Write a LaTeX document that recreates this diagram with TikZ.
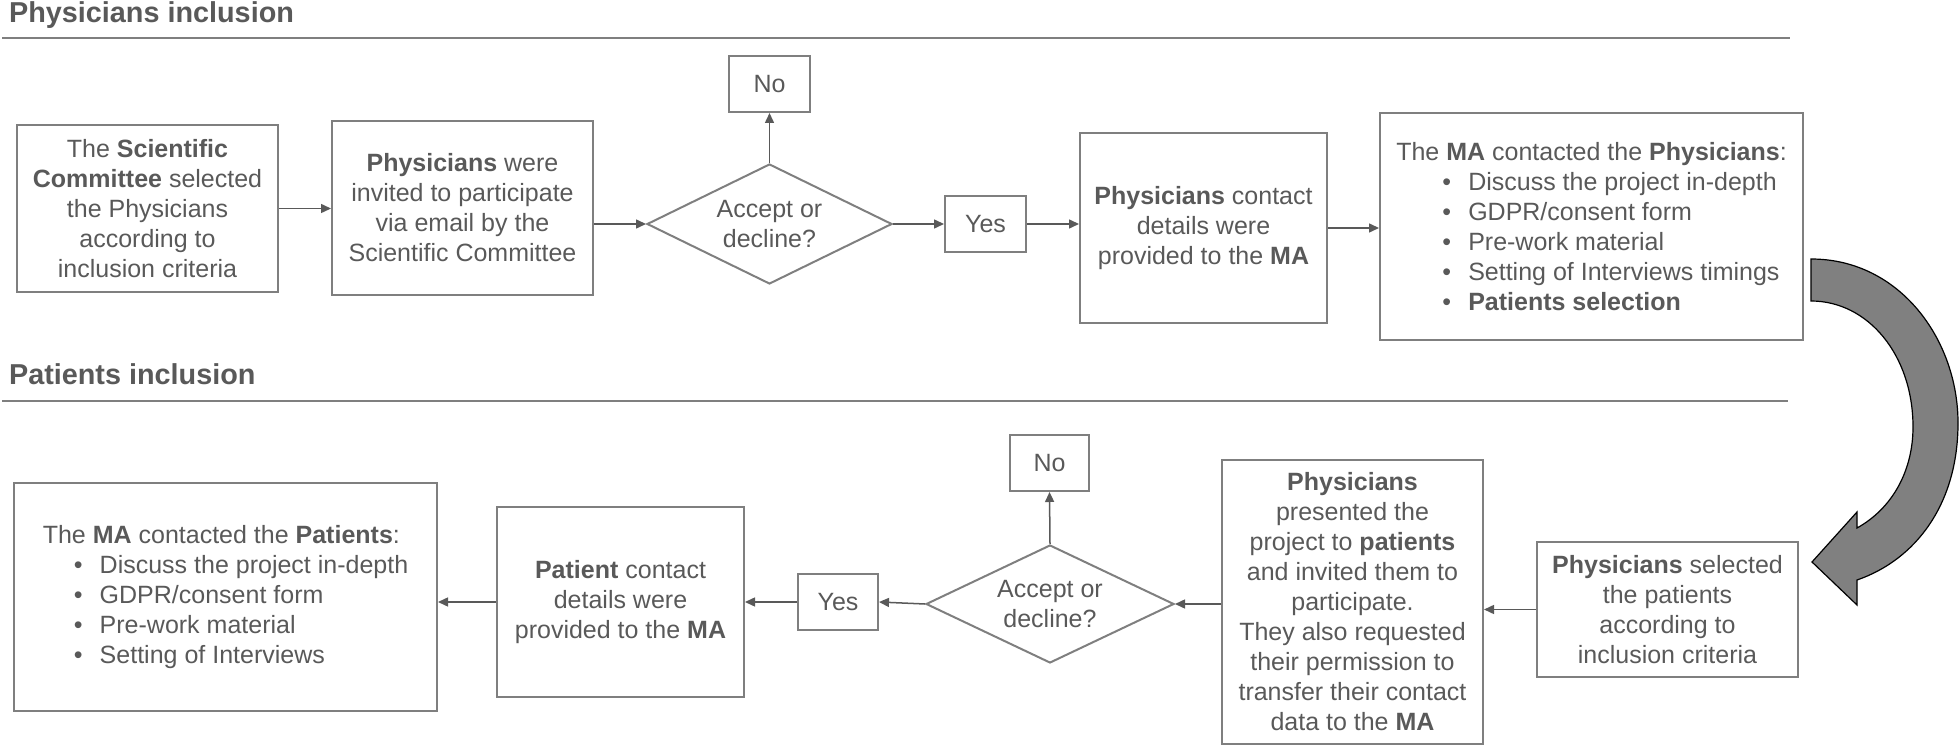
\documentclass[tikz,border=0pt]{standalone}
\usepackage{fontspec}
\setmainfont{Liberation Sans}
\usetikzlibrary{shapes.geometric,arrows.meta}
\definecolor{txtgray}{HTML}{595959}
\definecolor{boxgray}{HTML}{7F7F7F}
\definecolor{linegray}{HTML}{595959}
\definecolor{bigarrow}{HTML}{808080}
% bullet line inside the MA boxes
\newcommand{\bitem}[2]{\hspace*{#1}\makebox[13pt][l]{\textbullet}#2}

\begin{document}
\begin{tikzpicture}[x=0.5pt, y=-0.5pt,
    every node/.style={font=\fontsize{12.5}{15}\selectfont, text=txtgray},
    box/.style={draw=boxgray, line width=1pt, align=center, inner sep=2pt},
    decision/.style={diamond, aspect=2, draw=boxgray, line width=1pt, align=center, inner sep=0pt},
    flow/.style={draw=linegray, line width=0.75pt, -{Triangle[length=5pt,width=4.5pt]}},
    heading/.style={anchor=base west, font=\fontsize{14.4}{17}\selectfont\bfseries},
    rule/.style={draw=boxgray, line width=1pt}]
    \useasboundingbox (0,0) rectangle (1960,748);

    % Physicians inclusion
    \node[heading] (head1) at (2,23) {Physicians inclusion};
    \draw[rule] (2,38) -- (1790,38);

    \node[box, minimum width=130.5pt, minimum height=83.5pt] (sci) at (147.5,208.5)
        {The \textbf{Scientific}\\\textbf{Committee} selected\\the Physicians\\according to\\inclusion criteria};
    \node[box, minimum width=130.5pt, minimum height=87pt] (invite) at (462.5,208)
        {\textbf{Physicians} were\\invited to participate\\via email by the\\Scientific Committee};
    \node[decision, minimum width=122.5pt, minimum height=60pt] (dec1) at (769.5,224) {Accept or\\decline?};
    \node[box, minimum width=40.5pt, minimum height=28pt] (no1) at (769.5,84) {No};
    \node[box, minimum width=40.5pt, minimum height=28pt] (yes1) at (985.5,224) {Yes};
    \node[box, minimum width=123.5pt, minimum height=95pt] (det1) at (1203.5,228)
        {\textbf{Physicians} contact\\details were\\provided to the \textbf{MA}};
    \node[box, align=left, minimum width=211.5pt, minimum height=113.5pt] (ma1) at (1591.5,226.5)
        {The \textbf{MA} contacted the \textbf{Physicians}:\\
         \bitem{23pt}{Discuss the project in-depth}\\
         \bitem{23pt}{GDPR/consent form}\\
         \bitem{23pt}{Pre-work material}\\
         \bitem{23pt}{Setting of Interviews timings}\\
         \bitem{23pt}{\textbf{Patients selection}}};

    \draw[flow] (sci.east) -- (sci.east -| invite.west);
    \draw[flow] (dec1.west -| invite.east) -- (dec1.west);
    \draw[flow] (dec1.north) -- (no1.south);
    \draw[flow] (dec1.east) -- (yes1.west);
    \draw[flow] (yes1.east) -- (yes1.east -| det1.west);
    \draw[flow] (det1.east) -- (det1.east -| ma1.west);

    % big curved arrow down to the second row
    \draw[fill=bigarrow, draw=black, line width=0.6pt]
        (1811,259) .. controls (1900,259) and (1958,340) .. (1958,423)
        .. controls (1958,505) and (1915,560) .. (1857,580)
        -- (1857,605) -- (1812,562) -- (1857,512) -- (1857,528)
        .. controls (1893,508) and (1913,470) .. (1913,427)
        .. controls (1913,355) and (1868,301) .. (1811,301) -- cycle;

    % Patients inclusion
    \node[heading] (head2) at (2,385) {Patients inclusion};
    \draw[rule] (2,401) -- (1788,401);

    \node[box, minimum width=130.5pt, minimum height=67.5pt] (sel) at (1667.5,609.5)
        {\textbf{Physicians} selected\\the patients\\according to\\inclusion criteria};
    \node[box, minimum width=130.5pt, minimum height=142pt] (pres) at (1352.5,602)
        {\textbf{Physicians}\\presented the\\project to \textbf{patients}\\and invited them to\\participate.\\They also requested\\their permission to\\transfer their contact\\data to the \textbf{MA}};
    \node[decision, minimum width=124pt, minimum height=59pt] (dec2) at (1050,604) {Accept or\\decline?};
    \node[box, minimum width=39.5pt, minimum height=28pt] (no2) at (1049.5,463) {No};
    \node[box, minimum width=40pt, minimum height=28pt] (yes2) at (838,602) {Yes};
    \node[box, minimum width=123.5pt, minimum height=95pt] (det2) at (620.5,602)
        {\textbf{Patient} contact\\details were\\provided to the \textbf{MA}};
    \node[box, align=left, minimum width=211.5pt, minimum height=114pt] (ma2) at (225.5,597)
        {The \textbf{MA} contacted the \textbf{Patients}:\\
         \bitem{15.5pt}{Discuss the project in-depth}\\
         \bitem{15.5pt}{GDPR/consent form}\\
         \bitem{15.5pt}{Pre-work material}\\
         \bitem{15.5pt}{Setting of Interviews}};

    \draw[flow] (sel.west) -- (sel.west -| pres.east);
    \draw[flow] (dec2.east -| pres.west) -- (dec2.east);
    \draw[flow] (dec2.north) -- (no2.south);
    \draw[flow] (dec2.west) -- (yes2.east);
    \draw[flow] (yes2.west) -- (yes2.west -| det2.east);
    \draw[flow] (det2.west) -- (det2.west -| ma2.east);
\end{tikzpicture}
\end{document}
